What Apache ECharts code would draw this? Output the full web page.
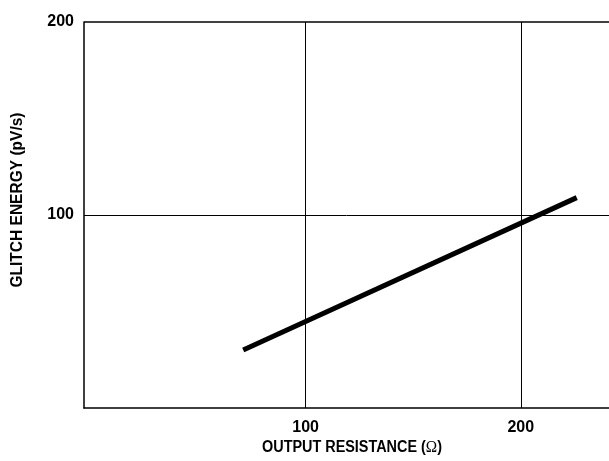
<!DOCTYPE html>
<html>
<head>
<meta charset="utf-8">
<script src="https://cdn.jsdelivr.net/npm/echarts@6/dist/echarts.min.js"></script>
<style>
  html, body { margin: 0; padding: 0; background: #fff; }
  #main { width: 609px; height: 461px; }
</style>
</head>
<body>
<div id="main"></div>
<script>
// 数据
let resistance = [71, 226];       // Ω
let glitch = [30, 109];           // pV/s
let xTicks = [100, 200];
let yTicks = [100, 200];
let gridX = [100, 200];
let gridY = [100];

let myChart = echarts.init(document.getElementById('main'));

let font = 'Liberation Sans, Arial, sans-serif';

let lineData = resistance.map((v, i) => [v, glitch[i]]);

let markData = [];
gridX.forEach(v => markData.push({ xAxis: v }));
gridY.forEach(v => markData.push({ yAxis: v }));
// 顶部边框
markData.push({ yAxis: 200, lineStyle: { width: 1.5 } });

let option = {
    animation: false,
    grid: {
        left: 84,
        right: 0,
        top: 22,
        bottom: 53
    },
    xAxis: {
        type: 'value',
        min: -3,
        max: 241,
        axisLine: { show: true, onZero: false, lineStyle: { color: '#000', width: 1.5 } },
        axisTick: { show: false },
        splitLine: { show: false },
        axisLabel: {
            customValues: xTicks,
            color: '#000',
            fontFamily: font,
            fontWeight: 'bold',
            fontSize: 16,
            margin: 12
        }
    },
    yAxis: {
        type: 'value',
        min: 0,
        max: 200,
        interval: 100,
        axisLine: { show: true, onZero: false, lineStyle: { color: '#000', width: 1.5 } },
        axisTick: { show: false },
        splitLine: { show: false },
        axisLabel: {
            color: '#000',
            fontFamily: font,
            fontWeight: 'bold',
            fontSize: 16,
            margin: 10,
            formatter: function (v) {
                return yTicks.indexOf(v) >= 0 ? String(v) : '';
            }
        }
    },
    graphic: [{
        type: 'text',
        rotation: Math.PI / 2,
        scaleX: 0.97,
        style: {
            text: 'GLITCH ENERGY (pV/s)',
            fill: '#000',
            font: 'bold 16px ' + font,
            align: 'center',
            verticalAlign: 'middle'
        },
        x: 18,
        y: 200
    }, {
        type: 'text',
        scaleX: 0.9,
        style: {
            text: '{a|OUTPUT RESISTANCE (}{b|Ω}{a|)}',
            rich: {
                a: { fontFamily: font, fontWeight: 'bold', fontSize: 16, fill: '#000' },
                b: { fontFamily: 'Liberation Serif, serif', fontSize: 17, fill: '#000' }
            },
            align: 'center',
            verticalAlign: 'middle'
        },
        x: 352,
        y: 448
    }],
    series: [{
        type: 'line',
        data: lineData,
        showSymbol: false,
        symbol: 'none',
        lineStyle: { color: '#000', width: 5, cap: 'butt' },
        z: 3,
        markLine: {
            silent: true,
            symbol: 'none',
            label: { show: false },
            lineStyle: { color: '#000', width: 1, type: 'solid' },
            data: markData
        }
    }]
};

myChart.setOption(option);
</script>
</body>
</html>
